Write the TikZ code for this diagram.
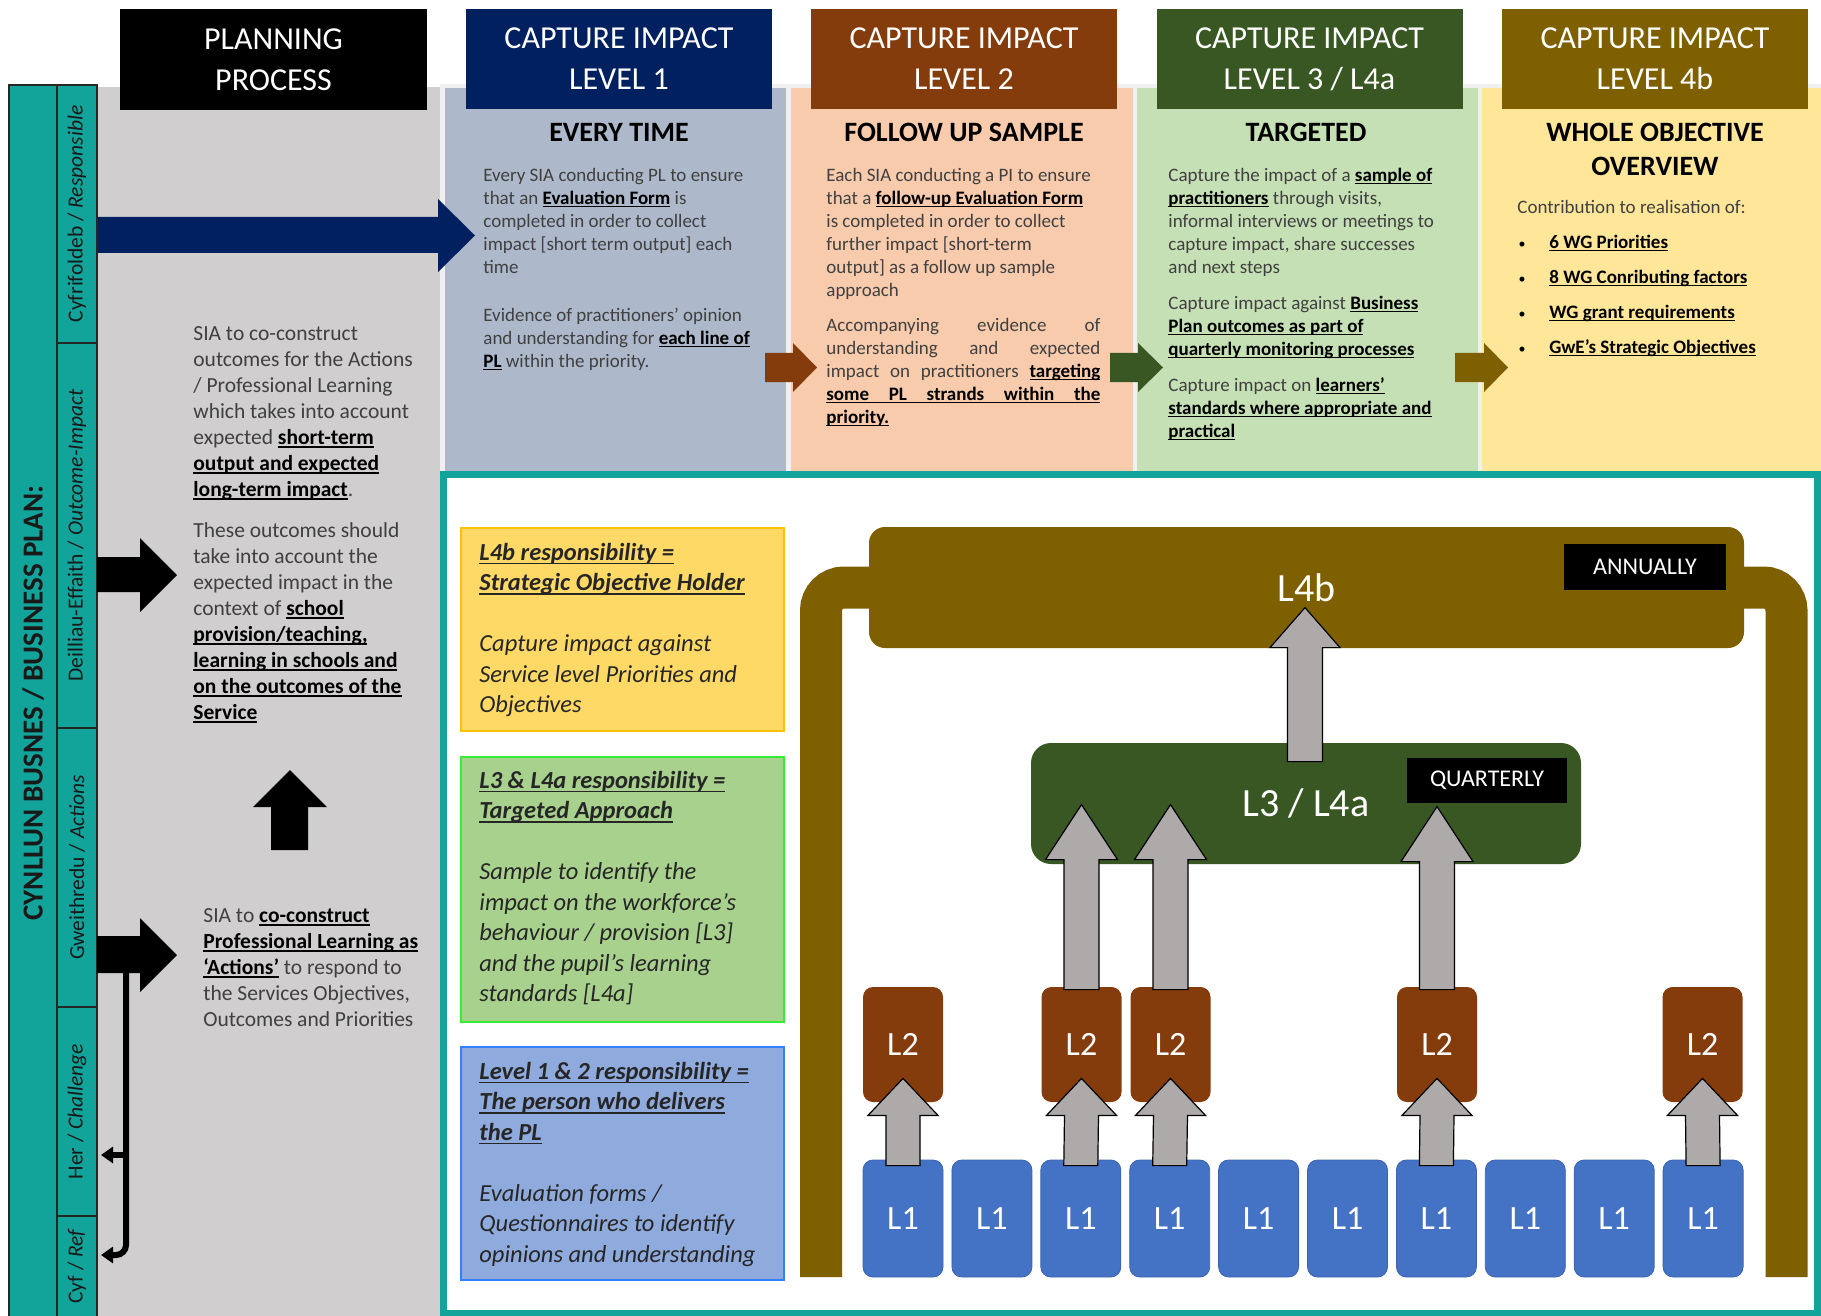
\documentclass[tikz,border=0pt]{standalone}
\usepackage{fontspec}
\setmainfont{Carlito}
\usetikzlibrary{calc,arrows.meta}
\definecolor{tealc}{HTML}{12A39A}
\definecolor{panelgrey}{HTML}{D0CECE}
\definecolor{gapgrey}{HTML}{F0F0F0}
\definecolor{colA}{HTML}{ADB9CA}
\definecolor{colB}{HTML}{F8CBAD}
\definecolor{colC}{HTML}{C5E0B4}
\definecolor{colD}{HTML}{FFE699}
\definecolor{darkA}{HTML}{002060}
\definecolor{darkB}{HTML}{843C0C}
\definecolor{darkC}{HTML}{385723}
\definecolor{darkD}{HTML}{7F6000}
\definecolor{lonebl}{HTML}{4472C4}
\definecolor{loneedge}{HTML}{3B64B0}
\definecolor{arrgrey}{HTML}{AEAAAA}
\definecolor{txtgrey}{HTML}{404040}
\definecolor{legAf}{HTML}{FFD966}
\definecolor{legAd}{HTML}{FFC000}
\definecolor{legBf}{HTML}{A9D18E}
\definecolor{legBd}{HTML}{33EE33}
\definecolor{legCf}{HTML}{8FAADC}
\definecolor{legCd}{HTML}{3380FF}
\newcommand\fbody{\fontsize{9.5}{11.5}\selectfont}
\newcommand\flist{\fontsize{9.5}{17.5}\selectfont}
\newcommand\fleft{\fontsize{10.75}{13}\selectfont}
\newcommand\flegend{\fontsize{12.25}{15.25}\selectfont}
\newcommand\fhead{\fontsize{16}{20.5}\selectfont}
\newcommand\ftitle{\fontsize{14}{17}\selectfont\bfseries}
\newcommand\fteal{\fontsize{10.75}{13}\selectfont}
\newcommand\fbig{\fontsize{20}{24}\selectfont}
\newcommand\flev{\fontsize{17}{20}\selectfont}
\newcommand\ftag{\fontsize{12}{14}\selectfont}
\newsavebox\ulbox
\newcommand\myul[1]{\leavevmode\sbox\ulbox{#1}\rlap{\rule[-0.16em]{\wd\ulbox}{0.065em}}\usebox\ulbox}
\newcommand\bund[1]{\textbf{\color{black}\myul{#1}}}
\newcommand\biund[1]{\textbf{\textit{\myul{#1}}}}
\newcommand\bulx{\makebox[16pt][l]{\hspace{0.6pt}{\fontsize{7}{8}\selectfont\color{black}•}}}
\newcommand\jline[1]{\makebox[137pt][s]{#1}}
\newcommand\uparr[5]{\draw[greyarr] ($(#1)+(-#3,0)$) -- ($(#2)+(-#3,#5)$) -- ($(#2)+(-#4,#5)$) -- (#2) -- ($(#2)+(#4,#5)$) -- ($(#2)+(#3,#5)$) -- ($(#1)+(#3,0)$) -- cycle;}
\begin{document}
\begin{tikzpicture}[x=0.5pt,y=-0.5pt,
  hdr/.style={text=white,font=\fhead,align=center,inner sep=0pt,minimum width=153pt,minimum height=50pt},
  ttl/.style={font=\ftitle,text=black,anchor=base,inner sep=0pt},
  bodytxt/.style={font=\fbody,text=txtgrey,align=left,anchor=north west,inner sep=0pt},
  lefttxt/.style={font=\fleft,text=txtgrey,align=left,anchor=north west,inner sep=0pt},
  legtxt/.style={font=\flegend,text=black!85,align=left,anchor=north west,inner sep=0pt},
  teallbl/.style={font=\fteal,text=black!90,rotate=90,inner sep=0pt},
  legbox/.style={minimum width=161.5pt,inner sep=0pt,line width=1pt},
  lonebox/.style={fill=lonebl,draw=loneedge,line width=0.4pt,rounded corners=5pt,minimum width=40pt,minimum height=58.5pt,inner sep=0pt,text=white,font=\flev},
  ltwobox/.style={fill=darkB,rounded corners=5pt,minimum width=40pt,minimum height=57.5pt,inner sep=0pt,text=white,font=\flev},
  tagbox/.style={fill=black,text=white,font=\ftag,inner sep=0pt},
  greyarr/.style={fill=arrgrey,draw=black,line width=0.6pt,line join=miter},
  blackline/.style={line width=3pt,draw=black}
]
\useasboundingbox (0,0) rectangle (1821,1316);
\fill[white] (0,0) rectangle (1821,1316);
% backgrounds
\fill[gapgrey] (440,84) rectangle (1821,474);
\fill[panelgrey] (97,87) rectangle (440,1316);
\fill[colA] (445,88) rectangle (786,474);
\fill[colB] (791,88) rectangle (1133,474);
\fill[colC] (1137,88) rectangle (1478,474);
\fill[colD] (1482,88) rectangle (1821,474);
% headers
\node[hdr,fill=black,minimum width=153.5pt,minimum height=50.5pt] (hplan) at (273.5,59.5) {PLANNING\\PROCESS};
\node[hdr,fill=darkA] (hone) at (619,59) {CAPTURE IMPACT\\LEVEL 1};
\node[hdr,fill=darkB] (htwo) at (964,59) {CAPTURE IMPACT\\LEVEL 2};
\node[hdr,fill=darkC] (hthree) at (1309.5,59) {CAPTURE IMPACT\\LEVEL 3 / L4a};
\node[hdr,fill=darkD] (hfour) at (1655,59) {CAPTURE IMPACT\\LEVEL 4b};
% titles
\node[ttl] (tone) at (619,142) {EVERY TIME};
\node[ttl] (ttwo) at (964,142) {FOLLOW UP SAMPLE};
\node[ttl] (tthree) at (1306,142) {TARGETED};
\node[font=\ftitle,text=black,align=center,anchor=north,inner sep=0pt] (tfour) at (1655,117.2) {\strut WHOLE OBJECTIVE\\OVERVIEW};
% column texts
\node[bodytxt] (aone) at (483,164.9) {\strut Every SIA conducting PL to ensure\\that an \bund{Evaluation Form} is\\completed in order to collect\\impact [short term output] each\\time};
\node[bodytxt] (atwo) at (483,304.9) {\strut Evidence of practitioners’ opinion\\and understanding for \bund{each line of}\\\bund{PL} within the priority.};
\node[bodytxt] (bone) at (826,164.9) {\strut Each SIA conducting a PI to ensure\\that a \bund{follow-up Evaluation Form}\\is completed in order to collect\\further impact [short-term\\output] as a follow up sample\\approach};
\node[bodytxt] (btwo) at (826,314.9) {\strut\jline{Accompanying evidence of}\\\jline{understanding and expected}\\\jline{impact on practitioners \bund{targeting}}\\\textbf{\color{black}\myul{\jline{some PL strands within the}}}\\\bund{priority.}};
\node[bodytxt] (cone) at (1168,164.9) {\strut Capture the impact of a \bund{sample of}\\\bund{practitioners} through visits,\\informal interviews or meetings to\\capture impact, share successes\\and next steps};
\node[bodytxt] (ctwo) at (1168,292.9) {\strut Capture impact against \bund{Business}\\\bund{Plan outcomes as part of}\\\bund{quarterly monitoring processes}};
\node[bodytxt] (cthree) at (1168,374.9) {\strut Capture impact on \bund{learners’}\\\bund{standards where appropriate and}\\\bund{practical}};
\node[bodytxt,font=\flist] (done) at (1517,188.5) {\strut Contribution to realisation of:\\\bulx\bund{6 WG Priorities}\\\bulx\bund{8 WG Conributing factors}\\\bulx\bund{WG grant requirements}\\\bulx\bund{GwE’s Strategic Objectives}};
% arrows between columns
\fill[darkB] (765,353) -- (793,353) -- (793,343) -- (817,367.5) -- (793,392) -- (793,382) -- (765,382) -- cycle;
\fill[darkC] (1110,353) -- (1138,353) -- (1138,343) -- (1163,367.5) -- (1138,392) -- (1138,382) -- (1110,382) -- cycle;
\fill[darkD] (1455,353) -- (1484,353) -- (1484,343) -- (1508,367.5) -- (1484,392) -- (1484,382) -- (1455,382) -- cycle;
% blue arrow
\fill[darkA] (97,217) -- (438,217) -- (438,199) -- (475,235.5) -- (438,272) -- (438,253) -- (97,253) -- cycle;
% left panel text
\node[lefttxt] (pone) at (193,321.8) {\strut SIA to co-construct\\outcomes for the Actions\\/ Professional Learning\\which takes into account\\expected \bund{short-term}\\\bund{output and expected}\\\bund{long-term impact}.};
\node[lefttxt] (ptwo) at (193,518.8) {\strut These outcomes should\\take into account the\\expected impact in the\\context of \bund{school}\\\bund{provision/teaching,}\\\bund{learning in schools and}\\\bund{on the outcomes of the}\\\bund{Service}};
\node[lefttxt] (pthree) at (203,903.8) {\strut SIA to \bund{co-construct}\\\bund{Professional Learning as}\\\bund{‘Actions’} to respond to\\the Services Objectives,\\Outcomes and Priorities};
% teal bar
\draw[fill=tealc,draw=black!85,line width=1.2pt] (9,85) rectangle (97,1322);
\draw[draw=black!85,line width=1.2pt] (57,85) -- (57,1322);
\foreach \yy in {343,728,1007,1216} \draw[draw=black!85,line width=1.2pt] (57,\yy) -- (97,\yy);
\node[teallbl] (lres) at (77,214) {Cyfrifoldeb / \textit{Responsible}};
\node[teallbl] (lout) at (77,535.5) {Deilliau-Effaith / \textit{Outcome-Impact}};
\node[teallbl] (lact) at (77,867.5) {Gweithredu / \textit{Actions}};
\node[teallbl] (lher) at (77,1111.5) {Her / \textit{Challenge}};
\node[teallbl] (lcyf) at (77,1266) {Cyf / \textit{Ref}};
\node[font=\fontsize{14.5}{17}\selectfont\bfseries,text=black!90,rotate=90,inner sep=0pt] (lplan) at (33,703) {CYNLLUN BUSNES / BUSINESS PLAN:};
% black arrows
\fill[black] (97,557) -- (140,557) -- (140,538) -- (177,575) -- (140,612) -- (140,592) -- (97,592) -- cycle;
\fill[black] (97,936) -- (140,936) -- (140,918) -- (177,955) -- (140,992) -- (140,973) -- (97,973) -- cycle;
\fill[black] (271,850) -- (271,807) -- (253,807) -- (290,770) -- (327,807) -- (308,807) -- (308,850) -- cycle;
\coordinate (actstem) at (126,962);
\coordinate (hertip) at (101,1155);
\coordinate (cyftip) at (101,1255);
\coordinate (brk) at (126,1155);
\draw[blackline,rounded corners=5pt,-{Triangle[length=6pt,width=8pt]}] (actstem) -- (actstem |- cyftip) -- (cyftip);
\draw[blackline,-{Triangle[length=6pt,width=8pt]}] (brk) -- (hertip);
% lower right frame
\fill[white] (443.5,474) rectangle (1821,1316);
\draw[tealc,line width=3.5pt] (443.5,474) rectangle (1817.5,1313);
% legend
\node[legbox,fill=legAf,draw=legAd,minimum height=101.5pt] (lgone) at (622.5,629.5) {};
\node[legbox,fill=legBf,draw=legBd,minimum height=132.5pt] (lgtwo) at (622.5,889.5) {};
\node[legbox,fill=legCf,draw=legCd,minimum height=116.5pt] (lgthree) at (622.5,1163.5) {};
\node[legtxt] (tgone) at (479,538.65) {\strut\biund{L4b responsibility =}\\\biund{Strategic Objective Holder}\\\mbox{}\\\textit{Capture impact against}\\\textit{Service level Priorities and}\\\textit{Objectives}};
\node[legtxt] (tgtwo) at (479,766.65) {\strut\biund{L3 \& L4a responsibility =}\\\biund{Targeted Approach}\\\mbox{}\\\textit{Sample to identify the}\\\textit{impact on the workforce’s}\\\textit{behaviour / provision [L3]}\\\textit{and the pupil’s learning}\\\textit{standards [L4a]}};
\node[legtxt] (tgthree) at (479,1057.65) {\strut\biund{Level 1 \& 2 responsibility =}\\\biund{The person who delivers}\\\biund{the PL}\\\mbox{}\\\textit{Evaluation forms /}\\\textit{Questionnaires to identify}\\\textit{opinions and understanding}};
% U frame
\draw[darkD,line width=21pt,rounded corners=11.5pt] (821,1277) -- (821,587.5) -- (1786.5,587.5) -- (1786.5,1277);
% L4b bar and L3 box
\node[fill=darkD,rounded corners=8pt,minimum width=437.5pt,minimum height=60.5pt,inner sep=0pt,text=white,font=\fbig] (lfour) at (1306.5,587.5) {L4b};
\node[tagbox,minimum width=81pt,minimum height=23pt] (annual) at (1645,567) {ANNUALLY};
\node[fill=darkC,rounded corners=10pt,minimum width=275pt,minimum height=60.5pt,inner sep=0pt,text=white,font=\fbig] (lthree) at (1306,803.5) {L3 / L4a};
\node[tagbox,minimum width=80pt,minimum height=22.5pt] (quart) at (1487,780.5) {QUARTERLY};
% L2 boxes
\node[ltwobox] (ltwoa) at (903,1044.5) {L2};
\node[ltwobox] (ltwob) at (1081.5,1044.5) {L2};
\node[ltwobox] (ltwoc) at (1170.5,1044.5) {L2};
\node[ltwobox] (ltwod) at (1437,1044.5) {L2};
\node[ltwobox] (ltwoe) at (1702.5,1044.5) {L2};
% L1 boxes
\foreach \i/\nm in {0/a,1/b,2/c,3/d,4/e,5/f,6/g,7/h,8/i,9/j}
  \node[lonebox] (lone\nm) at ({903+88.9*\i},1218.5) {L1};
% arrows L1 -> L2
\foreach \a/\b/\n in {lonea/ltwoa/p,lonec/ltwob/q,loned/ltwoc/r,loneg/ltwod/s,lonej/ltwoe/t}{
  \coordinate (bot\n) at ($(\a.north)+(0,6)$);
  \coordinate (tip\n) at ($(\b.south)+(0,-24)$);
  \uparr{bot\n}{tip\n}{17}{35}{37}
}
% arrows L2 -> L3
\coordinate (botu) at ($(ltwob.north)+(0,3)$);
\coordinate (tipu) at ($(ltwob.north)+(0,-182)$);
\uparr{botu}{tipu}{17.5}{36}{55}
\coordinate (botv) at ($(ltwoc.north)+(0,3)$);
\coordinate (tipv) at ($(ltwoc.north)+(0,-182)$);
\uparr{botv}{tipv}{17.5}{36}{55}
\coordinate (botw) at ($(ltwod.north)+(0,3)$);
\coordinate (tipw) at ($(ltwod.north)+(0,-180)$);
\uparr{botw}{tipw}{17.5}{36}{55}
% arrow L3 -> L4b
\coordinate (botx) at ($(lthree.north)+(-1,19)$);
\coordinate (tipx) at ($(lthree.north)+(-1,-135)$);
\uparr{botx}{tipx}{17.5}{35}{40}
\end{tikzpicture}
\end{document}
